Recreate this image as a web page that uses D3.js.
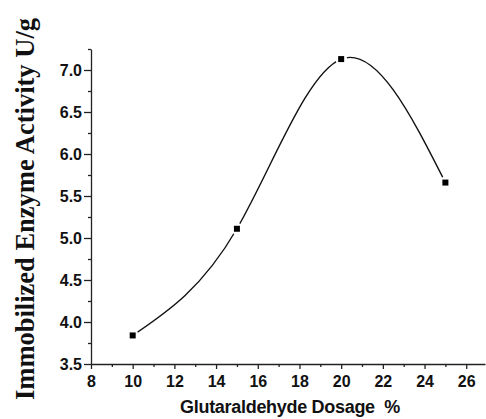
<!DOCTYPE html>
<html>
<head>
<meta charset="utf-8">
<script src="https://cdn.jsdelivr.net/npm/d3@7"></script>
<style>
  body { margin: 0; background: #fff; }
  svg { display: block; }
</style>
</head>
<body>
<script>
const W = 486, H = 419;
const MARGIN = {left: 91, right: 1, top: 49, bottom: 55};

// data
const dosage = [10, 15, 20, 25];
const activity = [3.84, 5.11, 7.13, 5.66];
const xTicks = [8, 10, 12, 14, 16, 18, 20, 22, 24, 26];
const yTicks = [3.5, 4.0, 4.5, 5.0, 5.5, 6.0, 6.5, 7.0];

const svg = d3.select('body')
    .append('svg')
    .attr('width', W)
    .attr('height', H);

const x = d3.scaleLinear()
    .domain([8, 26.9])
    .range([MARGIN.left, W - MARGIN.right]);

const y = d3.scaleLinear()
    .domain([3.5, 7.25])
    .range([H - MARGIN.bottom, MARGIN.top]);

// x axis
const xAxis = svg.append('g')
    .attr('transform', `translate(0, ${H - MARGIN.bottom})`)
    .call(d3.axisBottom(x).tickValues(xTicks).tickFormat(d3.format('d')).tickSize(5).tickSizeOuter(0));

svg.append('g')
    .attr('transform', `translate(0, ${H - MARGIN.bottom})`)
    .call(d3.axisBottom(x).tickValues(d3.range(9, 27, 2)).tickFormat('').tickSize(3).tickSizeOuter(0))
    .select('.domain').remove();

// y axis
const yAxis = svg.append('g')
    .attr('transform', `translate(${MARGIN.left}, 0)`)
    .call(d3.axisLeft(y).tickValues(yTicks).tickFormat(d3.format('.1f')).tickSize(7).tickSizeOuter(0));

svg.append('g')
    .attr('transform', `translate(${MARGIN.left}, 0)`)
    .call(d3.axisLeft(y).tickValues(d3.range(3.75, 7.3, 0.5)).tickFormat('').tickSize(3).tickSizeOuter(0))
    .select('.domain').remove();

svg.selectAll('.domain, .tick line')
    .attr('stroke', '#222')
    .attr('stroke-width', 1.3);

xAxis.selectAll('text')
    .attr('font-family', 'Liberation Sans, Arial, sans-serif')
    .attr('font-weight', 'bold')
    .attr('font-size', 16)
    .attr('fill', '#111')
    .attr('y', 23)
    .attr('dy', 0);

yAxis.selectAll('text')
    .attr('font-family', 'Liberation Sans, Arial, sans-serif')
    .attr('font-weight', 'bold')
    .attr('font-size', 16)
    .attr('fill', '#111')
    .attr('x', -9);

// smooth curve
const line = d3.line()
    .x((d, i) => x(dosage[i]))
    .y(d => y(d))
    .curve(d3.curveNatural);

svg.append('path')
    .datum(activity)
    .attr('fill', 'none')
    .attr('stroke', '#111')
    .attr('stroke-width', 1.4)
    .attr('d', line);

// halo + markers
svg.selectAll('.halo')
    .data(activity)
    .enter()
    .append('circle')
    .attr('class', 'halo')
    .attr('cx', (d, i) => x(dosage[i]))
    .attr('cy', d => y(d))
    .attr('r', 6)
    .attr('fill', '#fff');

svg.selectAll('.marker')
    .data(activity)
    .enter()
    .append('rect')
    .attr('class', 'marker')
    .attr('x', (d, i) => x(dosage[i]) - 3)
    .attr('y', d => y(d) - 3)
    .attr('width', 6)
    .attr('height', 6)
    .attr('fill', '#000');

// axis titles
svg.append('text')
    .attr('x', 290)
    .attr('y', 413)
    .attr('text-anchor', 'middle')
    .attr('font-family', 'Liberation Sans, Arial, sans-serif')
    .attr('font-weight', 'bold')
    .attr('font-size', 18)
    .attr('letter-spacing', -0.3)
    .attr('fill', '#111')
    .text('Glutaraldehyde Dosage\u00a0\u00a0%');

svg.append('text')
    .attr('transform', 'translate(34, 209) rotate(-90)')
    .attr('text-anchor', 'middle')
    .attr('font-family', 'Liberation Serif, Times New Roman, serif')
    .attr('font-weight', 'bold')
    .attr('font-size', 26.5)
    .attr('fill', '#111')
    .text('Immobilized Enzyme Activity U/g');
</script>
</body>
</html>
